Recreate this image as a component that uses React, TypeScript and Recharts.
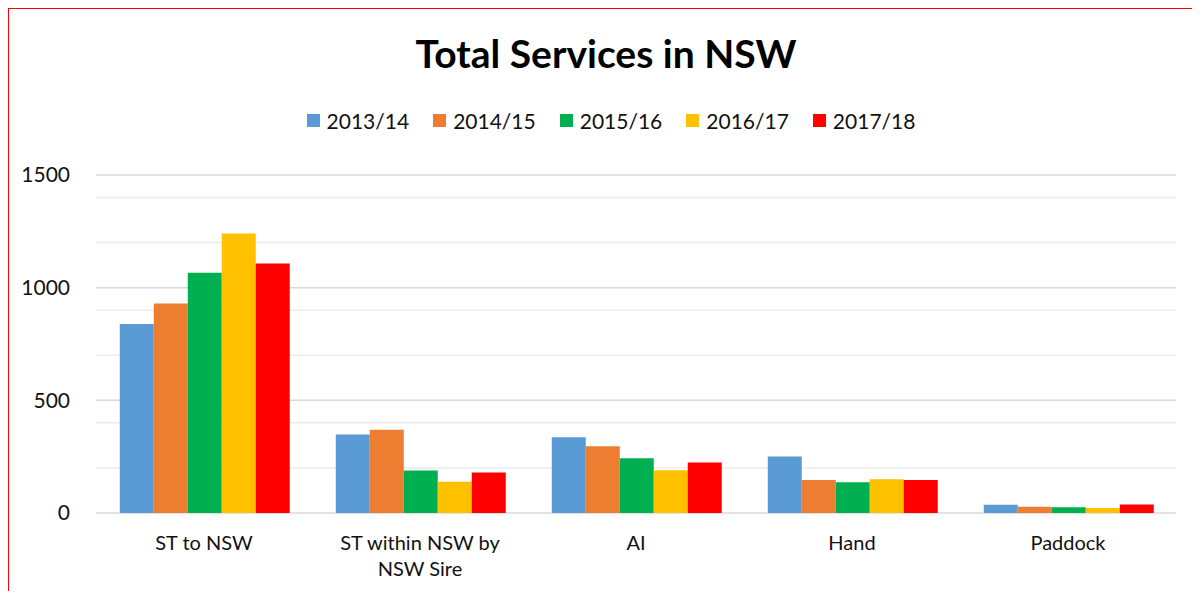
import React from 'react';
import { BarChart, Bar, XAxis, YAxis, CartesianGrid, Legend } from 'recharts';

const categories = ['ST to NSW', 'ST within NSW by NSW Sire', 'AI', 'Hand', 'Paddock'];
const seasons = ['2013/14', '2014/15', '2015/16', '2016/17', '2017/18'];
const colors = ['#5b9bd5', '#ed7d31', '#00b050', '#ffc000', '#ff0000'];

const v2013 = [839, 348, 336, 251, 37];
const v2014 = [930, 370, 296, 146, 28];
const v2015 = [1066, 189, 243, 136, 25];
const v2016 = [1240, 139, 190, 150, 22];
const v2017 = [1107, 180, 224, 146, 38];

const yTicks = [0, 500, 1000, 1500];
const minorTicks = [100, 200, 300, 400, 600, 700, 800, 900, 1100, 1200, 1300, 1400];

const seriesValues = [v2013, v2014, v2015, v2016, v2017];
const data = categories.map((name, i) => {
  const row: any = { name };
  seasons.forEach((s, j) => { row[s] = seriesValues[j][i]; });
  return row;
});

const FONT = 'Lato, "Open Sans", sans-serif';

// greedy word wrap by character count (Excel wraps long category names)
const wrap = (label: string, maxChars = 16) => {
  const lines: string[] = [];
  let cur = '';
  label.split(' ').forEach((w) => {
    const next = cur ? cur + ' ' + w : w;
    if (next.length > maxChars && cur) {
      lines.push(cur);
      cur = w;
    } else {
      cur = next;
    }
  });
  if (cur) lines.push(cur);
  return lines;
};

const CategoryTick: React.FC<any> = ({ x, y, payload }) => (
  <text x={x} y={y + 15} textAnchor="middle" style={{ fontSize: 20, fontFamily: FONT, fill: '#111' }}>
    {wrap(payload.value).map((line, i) => (
      <tspan key={i} x={x} dy={i === 0 ? '0.71em' : 26}>{line}</tspan>
    ))}
  </text>
);

const LegendContent: React.FC<any> = () => (
  <div style={{ display: 'flex', justifyContent: 'center', fontFamily: FONT, fontSize: 21, color: '#111' }}>
    {seasons.map((s, i) => (
      <div key={s} style={{ display: 'flex', alignItems: 'center', marginRight: i < seasons.length - 1 ? 24 : 0 }}>
        <span style={{ width: 13, height: 13, background: colors[i], display: 'inline-block', marginRight: 7 }} />
        <span>{s}</span>
      </div>
    ))}
  </div>
);

const App: React.FC = () => {
  return (
    <div style={{ position: 'relative', width: 1200, height: 599, margin: -8, overflow: 'hidden', background: '#fff' }}>
      <div
        style={{
          position: 'absolute', left: 6, top: 6, width: 1300, height: 700,
          border: '3px solid #ff0000', boxSizing: 'border-box',
        }}
      />
      <div
        style={{
          position: 'absolute', top: 30, left: 0, width: 1212, textAlign: 'center',
          fontFamily: FONT, fontWeight: 700, fontSize: 39, color: '#000',
        }}
      >
        Total Services in NSW
      </div>
      <div style={{ position: 'absolute', left: 0, top: 0 }}>
        <BarChart
          width={1200}
          height={599}
          data={data}
          margin={{ top: 150, right: 24, left: 10, bottom: 26 }}
          barCategoryGap="11%"
          barGap={0}
        >
          <CartesianGrid vertical={false} horizontalValues={minorTicks} stroke="#ececec" strokeWidth={1.5} />
          <CartesianGrid vertical={false} stroke="#d9d9d9" strokeWidth={1.5} />
          <XAxis
            dataKey="name"
            axisLine={false}
            tickLine={false}
            interval={0}
            height={60}
            tick={<CategoryTick />}
          />
          <YAxis
            width={86}
            domain={[0, 1500]}
            ticks={yTicks}
            axisLine={false}
            tickLine={false}
            tickMargin={20}
            tick={{ fontSize: 21, fontFamily: FONT, fill: '#111' }}
          />
          <Legend
            verticalAlign="top"
            content={<LegendContent />}
            wrapperStyle={{ top: 108, left: 0, width: 1222 }}
          />
          {seasons.map((s, i) => (
            <Bar key={s} dataKey={s} fill={colors[i]} isAnimationActive={false} />
          ))}
        </BarChart>
      </div>
    </div>
  );
};

export default App;
